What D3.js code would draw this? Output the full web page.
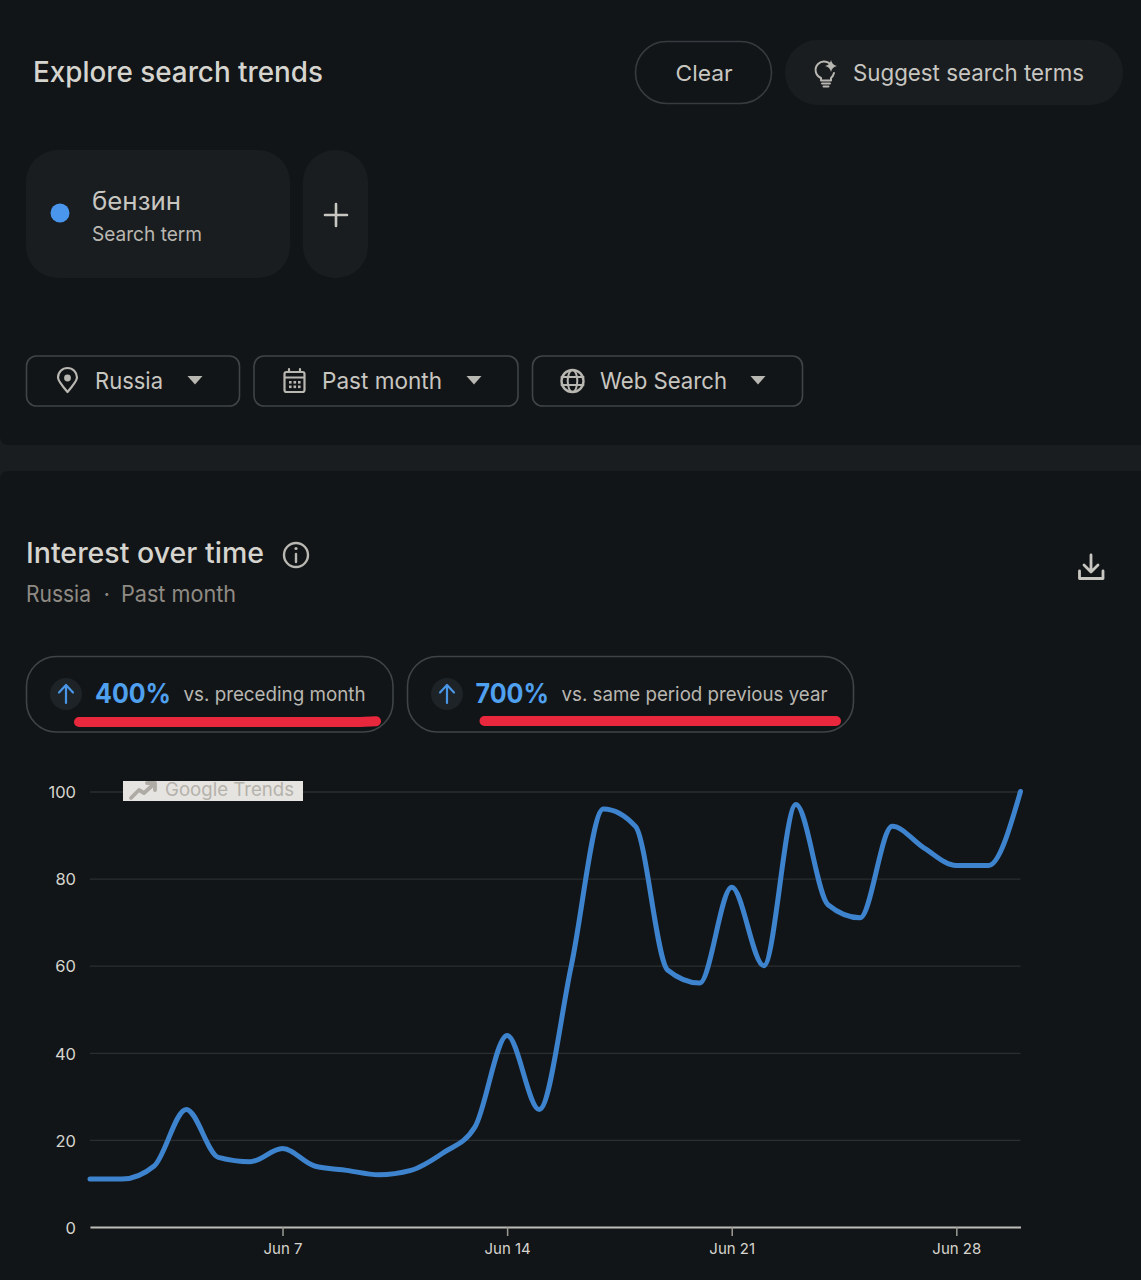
<!DOCTYPE html>
<html>
<head>
<meta charset="utf-8">
<script src="https://cdn.jsdelivr.net/npm/d3@7"></script>
<style>
  html, body { margin: 0; padding: 0; background: #121518; }
  svg { display: block; }
  text { font-family: "Inter", "Roboto", sans-serif; }
</style>
</head>
<body>
<div id="chart"></div>
<script>
// Daily search interest for the term, June 1 to June 30
const days = [1,2,3,4,5,6,7,8,9,10,11,12,13,14,15,16,17,18,19,20,21,22,23,24,25,26,27,28,29,30];
const interest = [11,11,14,27,16,15,18,14,13,12,13,17,23,44,27,60,96,92,59,56,78,60,97,74,71,92,87,83,83,100];
const yTicks = [0,20,40,60,80,100];
const xTicks = [7,14,21,28];
const monthLabel = "Jun";

const W = 1141, H = 1280;
const BG = "#121518", CHIP = "#191d20", TXT = "#d6d4ce", DIM = "#c8c6c0", MUTED = "#8f8b84",
      SOFT = "#b9b7b1", BORDER = "#3f4447", BLUE = "#4fa0ee", RED = "#e9283d";

const svg = d3.select("#chart").append("svg").attr("width", W).attr("height", H);
svg.append("rect").attr("width", W).attr("height", H).attr("fill", BG);

function label(x, y, str, size, fill, opts = {}) {
  const t = svg.append("text").attr("x", x).attr("y", y).text(str)
    .attr("font-size", size).attr("fill", fill);
  if (opts.weight) t.attr("font-weight", opts.weight);
  if (opts.anchor) t.attr("text-anchor", opts.anchor);
  if (opts.width) t.attr("textLength", opts.width).attr("lengthAdjust", "spacingAndGlyphs");
  return t;
}
function box(x, y, w, h, r, fill, stroke) {
  return svg.append("rect").attr("x", x).attr("y", y).attr("width", w).attr("height", h)
    .attr("rx", r).attr("fill", fill || "none").attr("stroke", stroke || "none").attr("stroke-width", 1.6);
}
function icon(d, color, width = 2.2, fill = "none") {
  return svg.append("path").attr("d", d).attr("fill", fill).attr("stroke", color)
    .attr("stroke-width", width).attr("stroke-linecap", "round").attr("stroke-linejoin", "round");
}
function caret(cx, cy) {
  svg.append("path").attr("d", `M${cx-7.5},${cy-4}h15l-7.5,8.5z`).attr("fill", SOFT);
}

// Band separating the two panels
svg.append("rect").attr("x", 0).attr("y", 445).attr("width", W).attr("height", 26).attr("fill", CHIP);
svg.append("path").attr("d", "M0,436 V445 H9 Q0,445 0,436z").attr("fill", CHIP);
svg.append("path").attr("d", "M0,480 V471 H9 Q0,471 0,480z").attr("fill", CHIP);

// Page header
label(33, 82, "Explore search trends", 28, TXT, { width: 290, weight: 500 });
box(635.5, 41.5, 136, 62, 31, BG, "#363b3e");
label(704, 80.5, "Clear", 22, DIM, { anchor: "middle", width: 57 });
box(785, 40, 338, 65, 32.5, CHIP);
label(853, 81, "Suggest search terms", 22.5, DIM, { width: 231 });
// Light bulb with a spark
icon("M832,67 A8.5,8.5 0 1 0 821,78 V80.5 H831 V78 Q833,76.5 834,73", SOFT, 2);
icon("M822,83.5 H830 M823.5,86.5 H828.5", SOFT, 1.9);
svg.append("path").attr("d", "M831,60 Q832,65 837,66 Q832,67 831,72 Q830,67 825,66 Q830,65 831,60z").attr("fill", SOFT);

// Search term chip
box(26, 150, 264, 128, 32, CHIP);
box(303, 150, 65, 128, 32, CHIP);
svg.append("circle").attr("cx", 60).attr("cy", 213).attr("r", 9.5).attr("fill", "#4a96ec");
label(92, 210, "бензин", 25, DIM, { width: 89 });
label(92, 241, "Search term", 20, SOFT, { width: 110 });
icon("M336,204 V226 M325,215 H347", DIM, 2.6);

// Filter selectors
box(26.5, 356, 213, 50, 10, BG, BORDER);
box(254, 356, 264, 50, 10, BG, BORDER);
box(532.5, 356, 270, 50, 10, BG, BORDER);
label(95, 389, "Russia", 23, DIM, { width: 68 });
label(322, 389, "Past month", 23, DIM, { width: 120 });
label(600, 389, "Web Search", 23, DIM, { width: 127 });
caret(195, 380); caret(474, 380); caret(758, 380);
// Location pin
icon("M67.5,392 Q58,381 58,377.5 A9.5,9.5 0 0 1 77,377.5 Q77,381 67.5,392z", SOFT, 2.2);
svg.append("circle").attr("cx", 67.5).attr("cy", 378).attr("r", 3.4).attr("fill", SOFT);
// Calendar
box(284.5, 372, 20, 20, 2, "none", SOFT).attr("stroke-width", 2.2);
icon("M285,377.5 H304 M289,369 V372 M300,369 V372", SOFT, 2.2);
svg.append("g").selectAll("rect").data(d3.cross([289, 293.5, 298], [381, 385.5])).join("rect")
  .attr("x", d => d[0]).attr("y", d => d[1]).attr("width", 2.6).attr("height", 2.6).attr("fill", SOFT);
// Globe
svg.append("circle").attr("cx", 572.5).attr("cy", 381).attr("r", 11).attr("fill", "none").attr("stroke", SOFT).attr("stroke-width", 2.4);
icon("M561.5,377 H583.5 M561.5,385 H583.5", SOFT, 2);
svg.append("ellipse").attr("cx", 572.5).attr("cy", 381).attr("rx", 4.8).attr("ry", 11).attr("fill", "none").attr("stroke", SOFT).attr("stroke-width", 2);

// Section heading
label(26, 562.5, "Interest over time", 28, TXT, { width: 238, weight: 500 });
svg.append("circle").attr("cx", 296).attr("cy", 555).attr("r", 12).attr("fill", "none").attr("stroke", SOFT).attr("stroke-width", 2.4);
icon("M296,554 V562", SOFT, 2.4);
svg.append("circle").attr("cx", 296).attr("cy", 548.5).attr("r", 1.6).attr("fill", SOFT);
label(26, 602, "Russia", 22.5, MUTED, { width: 65 });
label(103.5, 602, "·", 22.5, MUTED);
label(121, 602, "Past month", 22.5, MUTED, { width: 115 });
// Download
icon("M1091,555 V571 M1084,565 L1091,572 L1098,565", DIM, 2.8);
icon("M1079.5,571 V578.5 H1103 V571", DIM, 2.8);

// Comparison pills
box(26.5, 656.5, 366.5, 75.5, 30, BG, BORDER);
box(407.5, 656.5, 446, 75.5, 30, BG, BORDER);
[66, 447].forEach(cx => {
  svg.append("circle").attr("cx", cx).attr("cy", 694).attr("r", 16).attr("fill", "#1d2327");
  icon(`M${cx},703 V686 M${cx-7},692.5 L${cx},685 L${cx+7},692.5`, "#4a96e6", 2.2);
});
label(95, 702.5, "400%", 27, BLUE, { weight: 700, width: 76 });
label(183.5, 701, "vs. preceding month", 20, SOFT, { width: 182 });
label(475.5, 702.5, "700%", 27, BLUE, { weight: 700, width: 73.5 });
label(561.5, 701, "vs. same period previous year", 20, SOFT, { width: 266 });
// Hand-drawn red underlines
icon("M79,722 H360 L376,721.2", RED, 10);
icon("M484.5,721 H836", RED, 10);

// Interest chart
const x = d3.scaleLinear().domain([1, 30]).range([90, 1020.5]);
const y = d3.scaleLinear().domain([0, 100]).range([1227, 791.5]);

const yAxis = d3.axisLeft(y).tickValues(yTicks).tickSize(-(x.range()[1] - x.range()[0])).tickPadding(14);
const gy = svg.append("g").attr("transform", `translate(${x.range()[0]},0)`).call(yAxis);
gy.select(".domain").remove();
gy.selectAll(".tick line").attr("stroke", "#2b2e30").attr("stroke-width", 1.3);
gy.selectAll(".tick text").attr("fill", TXT).attr("font-size", 16.5).attr("dy", "0.38em");

const xAxis = d3.axisBottom(x).tickValues(xTicks).tickFormat(d => `${monthLabel} ${d}`).tickSize(9).tickSizeOuter(0).tickPadding(7);
const gx = svg.append("g").attr("transform", `translate(0,${y(0)})`).call(xAxis);
gx.select(".domain").attr("stroke", "#bcbbb6").attr("stroke-width", 1.8);
gx.selectAll(".tick line").attr("stroke", "#9c9b96").attr("stroke-width", 1.5);
gx.selectAll(".tick text").attr("fill", TXT).attr("font-size", 15);

// Watermark sits over the top gridline
svg.append("rect").attr("x", 123).attr("y", 781).attr("width", 180).attr("height", 20).attr("fill", "#e6e4e0");
icon("M131,798 L139,790 L144,793 L154,784 M147,783 H155 V790", "#aeaba5", 3.8);
label(165, 796, "Google Trends", 18.5, "#b5b2ac", { width: 129 });

const line = d3.line().x((d, i) => x(days[i])).y(d => y(d)).curve(d3.curveMonotoneX);
svg.append("path").datum(interest).attr("d", line).attr("fill", "none")
  .attr("stroke", "#3d83cd").attr("stroke-width", 5).attr("stroke-linecap", "round").attr("stroke-linejoin", "round");
</script>
</body>
</html>
